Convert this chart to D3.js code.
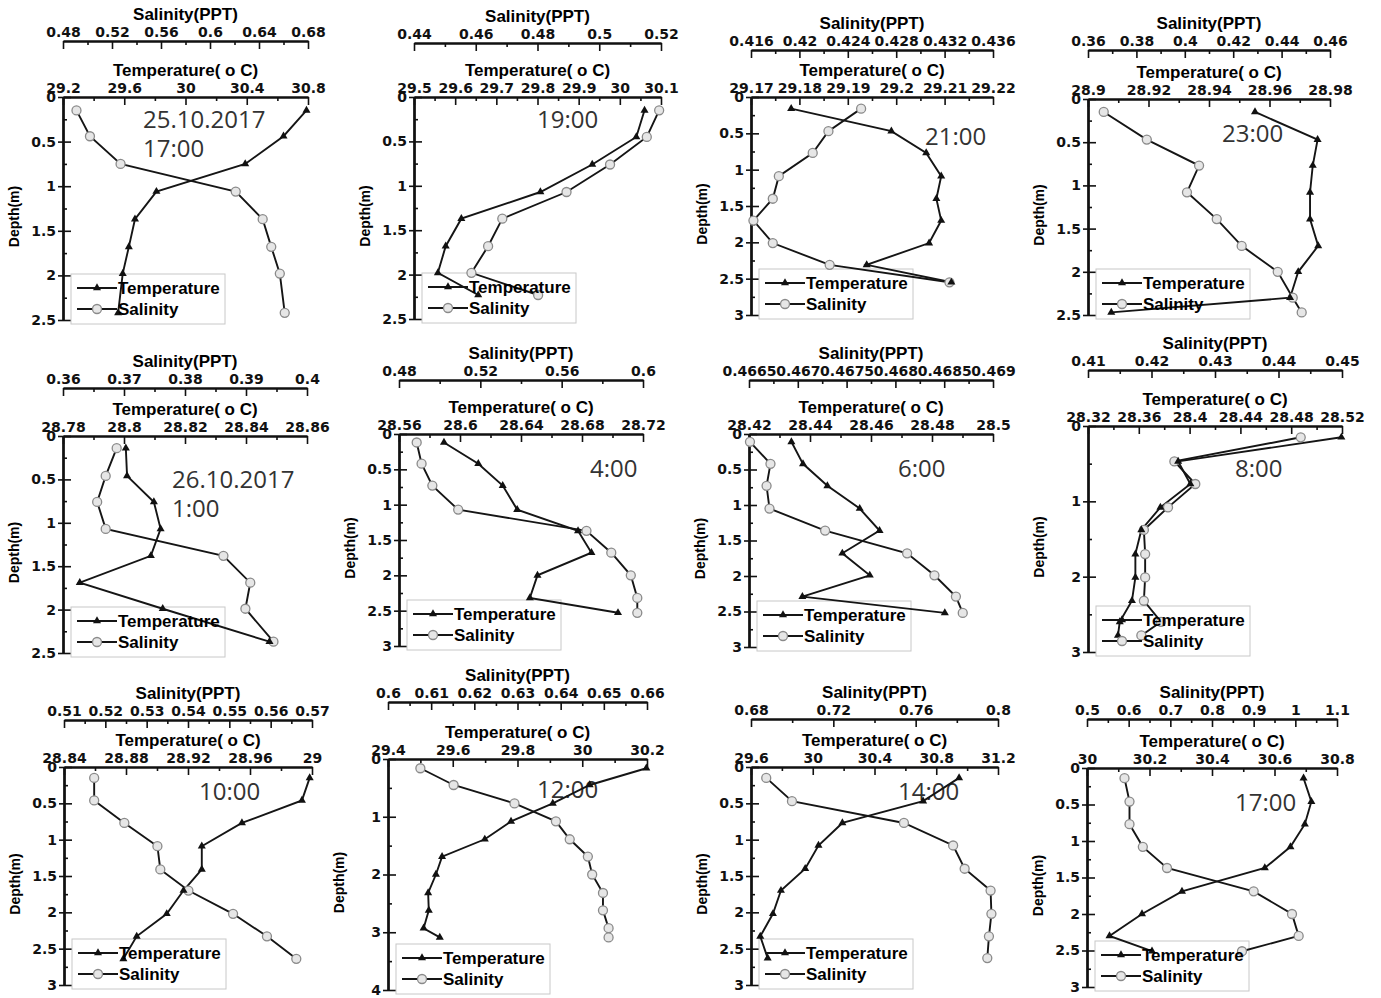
<!DOCTYPE html>
<html lang="en">
<head>
<meta charset="UTF-8">
<title>Depth profiles</title>
<script src="https://d3js.org/d3.v7.min.js"></script>
<style>
  body { margin: 0; background: #fff; }
  text { font-family: "Liberation Sans", Arial, sans-serif; }
</style>
</head>
<body>
<script>
// ---- data (depth m, temperature C, salinity PPT) ----
var depth1 = [0.15, 0.44, 0.75, 1.06, 1.37, 1.68, 1.98, 2.42];
var temp1 = [30.79, 30.64, 30.39, 29.81, 29.67, 29.63, 29.59, 29.56];
var sal1 = [0.491, 0.502, 0.527, 0.621, 0.643, 0.650, 0.657, 0.661];

var depth2 = [0.15, 0.45, 0.76, 1.07, 1.37, 1.68, 1.98, 2.23];
var temp2 = [30.06, 30.04, 29.933, 29.807, 29.615, 29.577, 29.558, 29.656];
var sal2 = [0.5194, 0.5154, 0.5035, 0.4894, 0.4686, 0.464, 0.4586, 0.4802];

var depth3 = [0.16, 0.47, 0.77, 1.09, 1.40, 1.70, 2.01, 2.31, 2.55];
var temp3 = [29.1783, 29.199, 29.2062, 29.2093, 29.2083, 29.2093, 29.2068, 29.1939, 29.2114];
var sal3 = [0.4251, 0.4224, 0.4211, 0.4183, 0.4178, 0.4162, 0.4178, 0.4225, 0.4324];

var depth4 = [0.15, 0.47, 0.77, 1.08, 1.39, 1.70, 2.0, 2.3, 2.47];
var temp4 = [28.9552, 28.9759, 28.9743, 28.9734, 28.9734, 28.9761, 28.9695, 28.9668, 28.9077];
var sal4 = [0.3665, 0.3843, 0.4059, 0.4009, 0.4132, 0.4235, 0.4384, 0.4446, 0.4483];

var depth5 = [0.14, 0.46, 0.76, 1.07, 1.38, 1.69, 1.99, 2.37];
var temp5 = [28.8006, 28.801, 28.8098, 28.812, 28.8088, 28.7855, 28.8127, 28.8477];
var sal5 = [0.3688, 0.367, 0.3656, 0.367, 0.3863, 0.3907, 0.3899, 0.3945];

var depth6 = [0.12, 0.42, 0.73, 1.07, 1.37, 1.68, 2.0, 2.32, 2.53];
var temp6 = [28.5895, 28.612, 28.628, 28.6375, 28.6774, 28.6862, 28.6508, 28.6458, 28.7036];
var sal6 = [0.4887, 0.4911, 0.4964, 0.5091, 0.5722, 0.5844, 0.594, 0.5972, 0.5972];

var depth7 = [0.11, 0.42, 0.73, 1.05, 1.36, 1.68, 1.99, 2.29, 2.52];
var temp7 = [28.4339, 28.4377, 28.4457, 28.4563, 28.4628, 28.4506, 28.4596, 28.4375, 28.4842];
var sal7 = [0.46651, 0.46672, 0.46668, 0.46671, 0.46728, 0.46812, 0.4684, 0.46862, 0.46869];

var depth8 = [0.15, 0.47, 0.77, 1.08, 1.38, 1.70, 2.01, 2.32, 2.6, 2.78];
var temp8 = [28.5195, 28.391, 28.4006, 28.377, 28.362, 28.3573, 28.3573, 28.3546, 28.345, 28.3436];
var sal8 = [0.4435, 0.4236, 0.4269, 0.4226, 0.4188, 0.419, 0.419, 0.4188, 0.4215, 0.4184];

var depth9 = [0.15, 0.46, 0.77, 1.09, 1.41, 1.70, 2.02, 2.33, 2.64];
var temp9 = [28.9985, 28.9935, 28.9548, 28.9289, 28.9289, 28.9171, 28.9063, 28.8869, 28.8783];
var sal9 = [0.5173, 0.5173, 0.5246, 0.5326, 0.5333, 0.5401, 0.5509, 0.5591, 0.5662];

var depth10 = [0.16, 0.45, 0.77, 1.08, 1.39, 1.69, 2.0, 2.32, 2.62, 2.93, 3.09];
var temp10 = [30.198, 30.023, 29.909, 29.78, 29.699, 29.567, 29.548, 29.524, 29.526, 29.51, 29.56];
var sal10 = [0.6075, 0.6152, 0.6293, 0.6389, 0.6421, 0.6463, 0.6473, 0.6498, 0.6498, 0.6511, 0.6511];

var depth11 = [0.15, 0.47, 0.77, 1.08, 1.40, 1.70, 2.02, 2.33, 2.63];
var temp11 = [30.948, 30.715, 30.192, 30.037, 29.951, 29.794, 29.742, 29.66, 29.708];
var sal11 = [0.6874, 0.6999, 0.7543, 0.7782, 0.7838, 0.7964, 0.7968, 0.7956, 0.7948];

var depth12 = [0.14, 0.46, 0.77, 1.08, 1.37, 1.69, 2.0, 2.3, 2.51];
var temp12 = [30.693, 30.718, 30.697, 30.651, 30.569, 30.304, 30.176, 30.072, 30.208];
var sal12 = [0.590, 0.602, 0.602, 0.634, 0.692, 0.90, 0.992, 1.008, 0.872];

// ---- tick labels ----
var tempTicks = [
  [29.2, 29.6, 30, 30.4, 30.8],
  [29.5, 29.6, 29.7, 29.8, 29.9, 30, 30.1],
  [29.17, 29.18, 29.19, 29.2, 29.21, 29.22],
  [28.9, 28.92, 28.94, 28.96, 28.98],
  [28.78, 28.8, 28.82, 28.84, 28.86],
  [28.56, 28.6, 28.64, 28.68, 28.72],
  [28.42, 28.44, 28.46, 28.48, 28.5],
  [28.32, 28.36, 28.4, 28.44, 28.48, 28.52],
  [28.84, 28.88, 28.92, 28.96, 29],
  [29.4, 29.6, 29.8, 30, 30.2],
  [29.6, 30, 30.4, 30.8, 31.2],
  [30, 30.2, 30.4, 30.6, 30.8]
];
var salTicks = [
  [0.48, 0.52, 0.56, 0.6, 0.64, 0.68],
  [0.44, 0.46, 0.48, 0.5, 0.52],
  [0.416, 0.42, 0.424, 0.428, 0.432, 0.436],
  [0.36, 0.38, 0.4, 0.42, 0.44, 0.46],
  [0.36, 0.37, 0.38, 0.39, 0.4],
  [0.48, 0.52, 0.56, 0.6],
  [0.4665, 0.467, 0.4675, 0.468, 0.4685, 0.469],
  [0.41, 0.42, 0.43, 0.44, 0.45],
  [0.51, 0.52, 0.53, 0.54, 0.55, 0.56, 0.57],
  [0.6, 0.61, 0.62, 0.63, 0.64, 0.65, 0.66],
  [0.68, 0.72, 0.76, 0.8],
  [0.5, 0.6, 0.7, 0.8, 0.9, 1, 1.1]
];
var d25 = [0, 0.5, 1, 1.5, 2, 2.5], d3m = [0, 0.5, 1, 1.5, 2, 2.5, 3];
var depthTicks = [d25, d25, d3m, d25, d25, d3m, d3m, [0, 1, 2, 3], d3m, [0, 1, 2, 3, 4], d3m, d3m];
var timeLabels = [
  ["25.10.2017", "17:00"], ["19:00"], ["21:00"], ["23:00"],
  ["26.10.2017", "1:00"], ["4:00"], ["6:00"], ["8:00"],
  ["10:00"], ["12:00"], ["14:00"], ["17:00"]
];

var depths = [depth1, depth2, depth3, depth4, depth5, depth6, depth7, depth8, depth9, depth10, depth11, depth12];
var temps = [temp1, temp2, temp3, temp4, temp5, temp6, temp7, temp8, temp9, temp10, temp11, temp12];
var sals = [sal1, sal2, sal3, sal4, sal5, sal6, sal7, sal8, sal9, sal10, sal11, sal12];

// ---- panel layout (pixels): plot left/right, temp axis y, salinity axis y, bottom, time label pos ----
var layout = [
  {x0: 63, x1: 308, yT: 97, yS: 41, yB: 320, lx: 143, ly: 128},
  {x0: 414, x1: 661, yT: 97, yS: 43, yB: 319, lx: 537, ly: 128},
  {x0: 751, x1: 993, yT: 97, yS: 50, yB: 315, lx: 925, ly: 145},
  {x0: 1088, x1: 1330, yT: 99, yS: 50, yB: 315, lx: 1222, ly: 142},
  {x0: 63, x1: 307, yT: 436, yS: 388, yB: 653, lx: 172, ly: 488},
  {x0: 399, x1: 643, yT: 434, yS: 380, yB: 646, lx: 590, ly: 477},
  {x0: 749, x1: 993, yT: 434, yS: 380, yB: 647, lx: 898, ly: 477},
  {x0: 1088, x1: 1342, yT: 426, yS: 370, yB: 652, lx: 1235, ly: 477},
  {x0: 64, x1: 312, yT: 767, yS: 720, yB: 985, lx: 199, ly: 800},
  {x0: 388, x1: 647, yT: 759, yS: 702, yB: 990, lx: 537, ly: 798},
  {x0: 751, x1: 998, yT: 767, yS: 719, yB: 985, lx: 898, ly: 800},
  {x0: 1087, x1: 1337, yT: 768, yS: 719, yB: 987, lx: 1235, ly: 811}
];

var svg = d3.select("body").append("svg")
  .attr("width", 1381).attr("height", 998)
  .style("background", "#fff");

var fmt = d3.format("~g");
function mids(t) { return d3.pairs(t).map(function(p) { return (p[0] + p[1]) / 2; }); }

function styleAxis(g) {
  g.select(".domain").attr("stroke", "#111").attr("stroke-width", 2);
  g.selectAll(".tick line").attr("stroke", "#111").attr("stroke-width", 1.6);
  g.selectAll(".tick text")
    .attr("fill", "#111")
    .style("font-family", "'DejaVu Sans', sans-serif")
    .style("font-size", "14px")
    .style("font-weight", "bold");
}

layout.forEach(function(L, i) {
  var tT = tempTicks[i], sT = salTicks[i], dT = depthTicks[i];
  var x = d3.scaleLinear().domain([tT[0], tT[tT.length - 1]]).range([L.x0, L.x1]);
  var xs = d3.scaleLinear().domain([sT[0], sT[sT.length - 1]]).range([L.x0, L.x1]);
  var y = d3.scaleLinear().domain([0, dT[dT.length - 1]]).range([L.yT, L.yB]);
  var g = svg.append("g");

  // salinity axis (top)
  g.append("g").attr("transform", "translate(0," + L.yS + ")")
    .call(d3.axisTop(xs).tickValues(mids(sT)).tickSizeInner(-4).tickSizeOuter(0).tickFormat(""))
    .call(styleAxis);
  g.append("g").attr("transform", "translate(0," + L.yS + ")")
    .call(d3.axisTop(xs).tickValues(sT).tickSizeInner(-8).tickSizeOuter(0).tickPadding(4).tickFormat(fmt))
    .call(styleAxis);
  g.append("text")
    .attr("x", (L.x0 + L.x1) / 2).attr("y", L.yS - 21)
    .attr("text-anchor", "middle")
    .style("font-size", "17px").style("font-weight", "bold")
    .text("Salinity(PPT)");

  // temperature axis (top of plot)
  g.append("g").attr("transform", "translate(0," + L.yT + ")")
    .call(d3.axisTop(x).tickValues(mids(tT)).tickSizeInner(-4).tickSizeOuter(0).tickFormat(""))
    .call(styleAxis);
  g.append("g").attr("transform", "translate(0," + L.yT + ")")
    .call(d3.axisTop(x).tickValues(tT).tickSizeInner(-8).tickSizeOuter(0).tickPadding(4).tickFormat(fmt))
    .call(styleAxis);
  g.append("text")
    .attr("x", (L.x0 + L.x1) / 2).attr("y", L.yT - 21)
    .attr("text-anchor", "middle")
    .style("font-size", "17px").style("font-weight", "bold")
    .text("Temperature( o C)");

  // depth axis
  g.append("g").attr("transform", "translate(" + L.x0 + ",0)")
    .call(d3.axisLeft(y).tickValues(mids(dT)).tickSizeInner(-4).tickSizeOuter(0).tickFormat(""))
    .call(styleAxis);
  g.append("g").attr("transform", "translate(" + L.x0 + ",0)")
    .call(d3.axisLeft(y).tickValues(dT).tickSizeInner(5).tickSizeOuter(0).tickFormat(""))
    .call(styleAxis);
  g.append("g").attr("transform", "translate(" + L.x0 + ",0)")
    .call(d3.axisLeft(y).tickValues(dT).tickSizeInner(-8).tickSizeOuter(0).tickPadding(7).tickFormat(fmt))
    .call(styleAxis);
  var ym = (L.yT + L.yB) / 2 + 8;
  g.append("text")
    .attr("transform", "translate(" + (L.x0 - 44) + "," + ym + ") rotate(-90)")
    .attr("text-anchor", "middle")
    .style("font-size", "14px").style("font-weight", "bold")
    .text("Depth(m)");

  // time label
  timeLabels[i].forEach(function(t, k) {
    g.append("text")
      .attr("x", L.lx).attr("y", L.ly + k * 29)
      .attr("fill", "#333")
      .style("font-family", "'Open Sans', sans-serif")
      .style("font-size", "24px")
      .text(t);
  });

  // legend
  var lx = L.x0 + 8, ly = L.yB - 46;
  g.append("rect").attr("x", lx).attr("y", ly).attr("width", 154).attr("height", 50)
    .attr("fill", "none").attr("stroke", "#c8c8c8").attr("stroke-width", 1);

  var lineT = d3.line().x(function(d) { return x(d[1]); }).y(function(d) { return y(d[0]); });
  var lineS = d3.line().x(function(d) { return xs(d[1]); }).y(function(d) { return y(d[0]); });
  var tPts = d3.zip(depths[i], temps[i]);
  var sPts = d3.zip(depths[i], sals[i]);

  g.append("path").datum(sPts).attr("d", lineS)
    .attr("fill", "none").attr("stroke", "#151515").attr("stroke-width", 1.9);
  g.append("path").datum(tPts).attr("d", lineT)
    .attr("fill", "none").attr("stroke", "#151515").attr("stroke-width", 1.9);

  g.selectAll("circle.s").data(sPts).join("circle").attr("class", "s")
    .attr("cx", function(d) { return xs(d[1]); })
    .attr("cy", function(d) { return y(d[0]); })
    .attr("r", 4.5)
    .attr("fill", "#e6e6e6").attr("stroke", "#8a8a8a").attr("stroke-width", 1.3);

  var tri = d3.symbol(d3.symbolTriangle).size(28);
  g.selectAll("path.t").data(tPts).join("path").attr("class", "t")
    .attr("d", tri)
    .attr("transform", function(d) { return "translate(" + x(d[1]) + "," + y(d[0]) + ")"; })
    .attr("fill", "#111");

  // legend rows
  var rows = [{name: "Temperature", dy: 14}, {name: "Salinity", dy: 35}];
  rows.forEach(function(r, k) {
    var yy = ly + r.dy;
    g.append("line").attr("x1", lx + 6).attr("x2", lx + 46).attr("y1", yy).attr("y2", yy)
      .attr("stroke", "#151515").attr("stroke-width", 1.9);
    if (k === 0) {
      g.append("path").attr("d", tri).attr("transform", "translate(" + (lx + 26) + "," + yy + ")").attr("fill", "#111");
    } else {
      g.append("circle").attr("cx", lx + 26).attr("cy", yy).attr("r", 4.5)
        .attr("fill", "#e6e6e6").attr("stroke", "#8a8a8a").attr("stroke-width", 1.3);
    }
    g.append("text").attr("x", lx + 47).attr("y", yy + 6)
      .style("font-size", "17px").style("font-weight", "bold")
      .text(r.name);
  });
});
</script>
</body>
</html>
